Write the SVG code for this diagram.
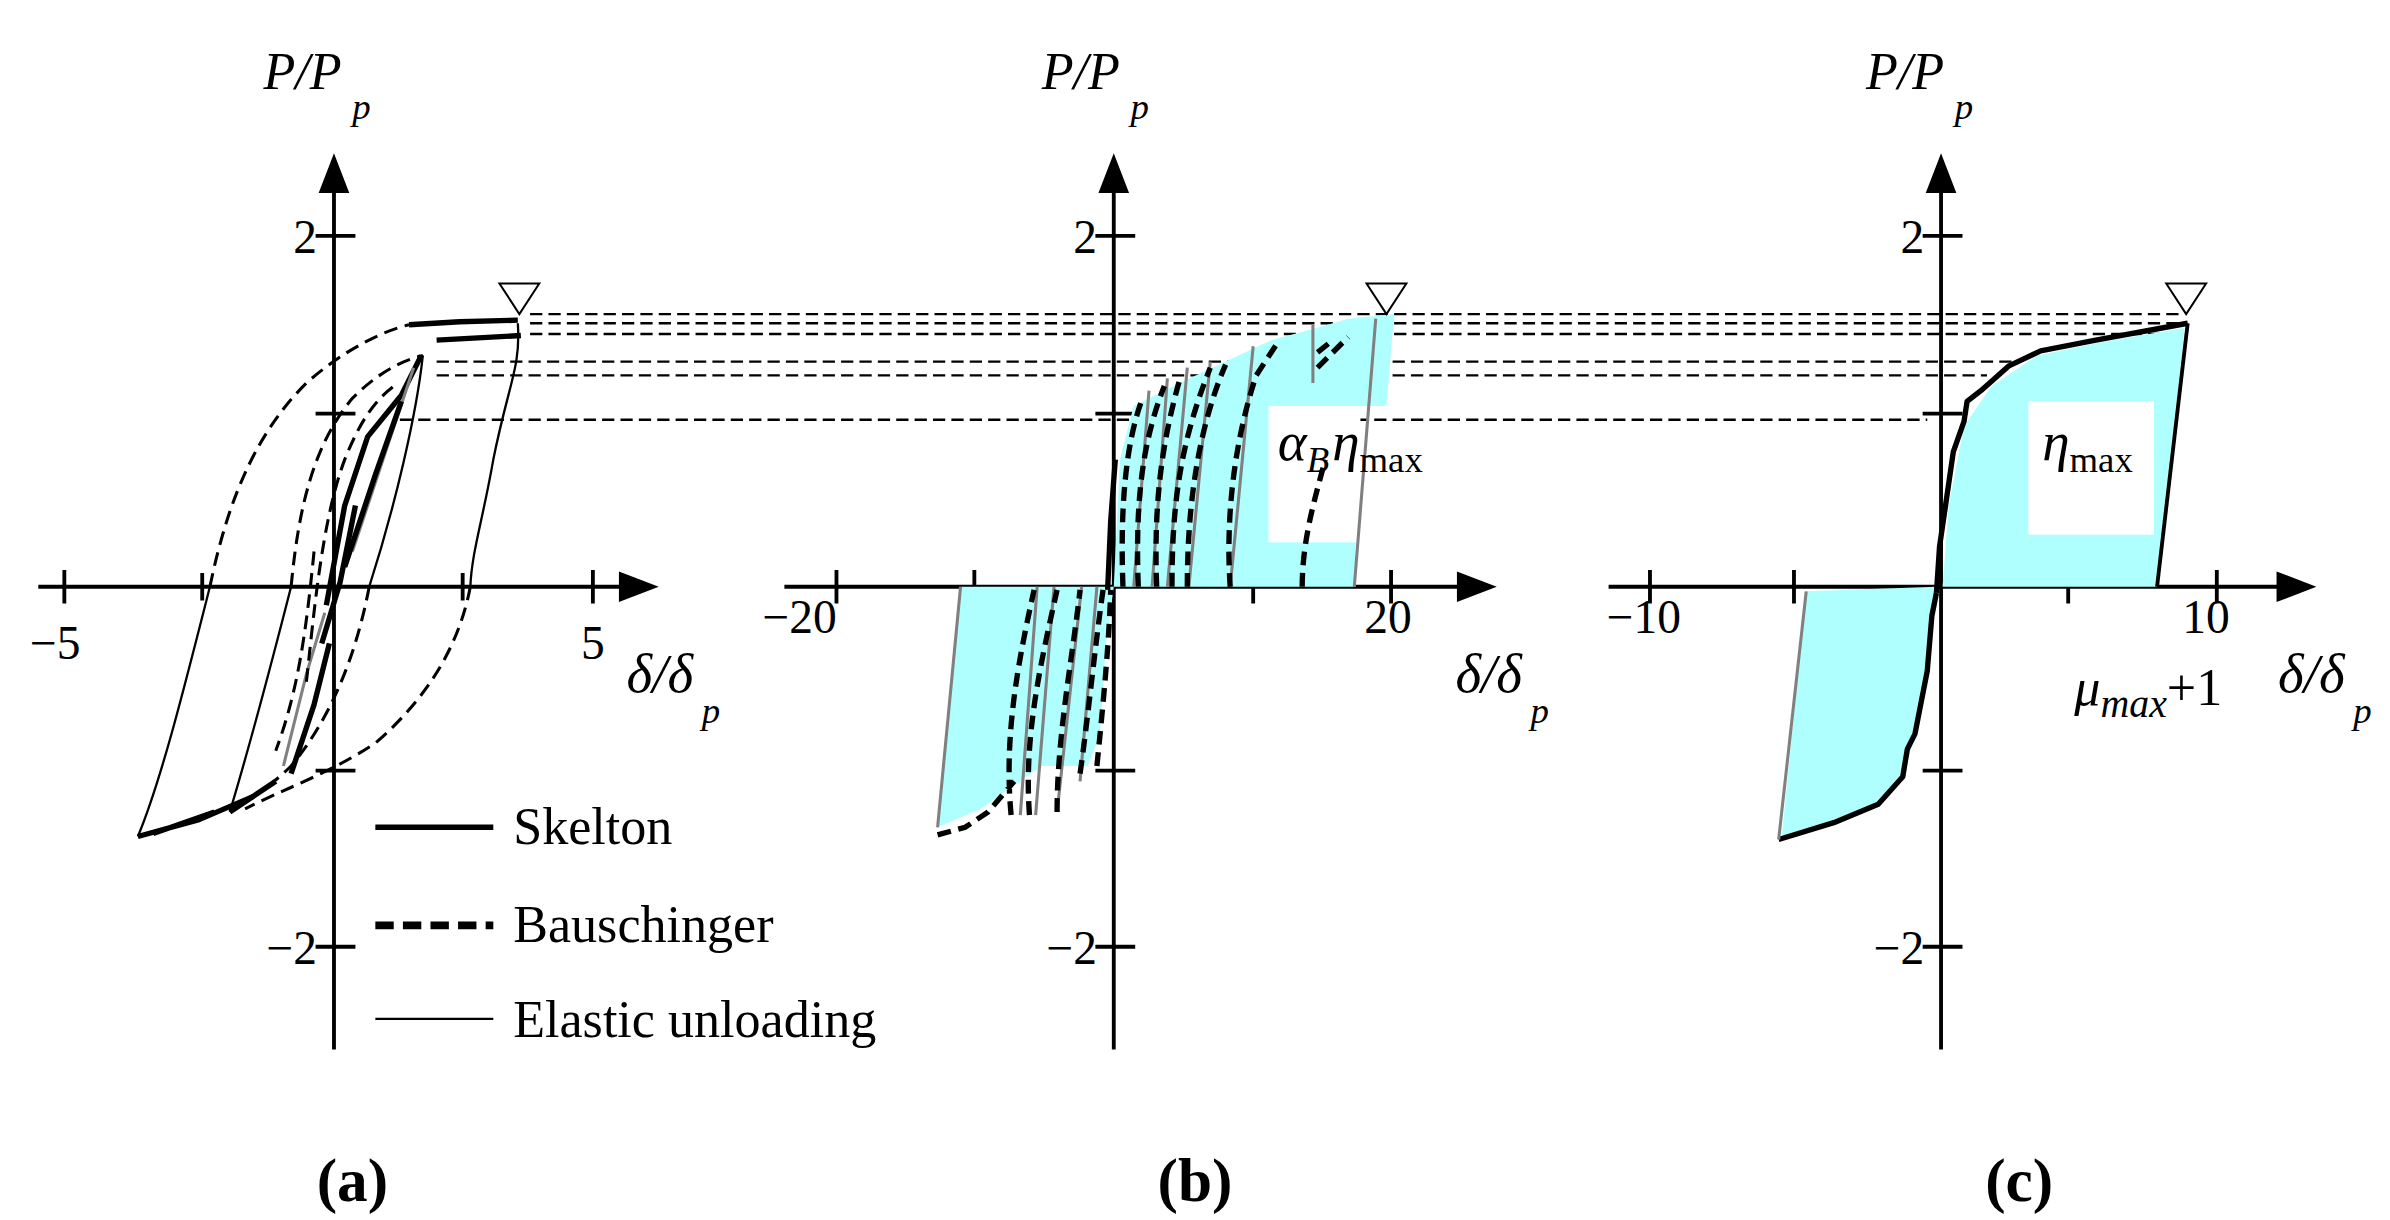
<svg xmlns="http://www.w3.org/2000/svg" width="2390" height="1220" viewBox="0 0 2390 1220">
<style>
.ax{stroke:#000;stroke-width:2.5;fill:none}
.sk{stroke:#000;stroke-width:3.5;fill:none;stroke-linejoin:round}
.bs{stroke:#000;stroke-width:3.5;fill:none;stroke-dasharray:9 5}
.el{stroke:#000;stroke-width:1.5;fill:none}
.gr{stroke:#808080;stroke-width:2;fill:none}
.hd{stroke:#000;stroke-width:1.5;fill:none;stroke-dasharray:8 4}
.cy{fill:#b0ffff;stroke:none}
.tri{fill:#fff;stroke:#000;stroke-width:1.3}
text{font-family:"Liberation Serif","Times New Roman",serif;fill:#000}
.t{font-size:31px}
.i{font-style:italic}
.lab{font-size:40px;font-weight:bold}
</style>
<rect width="2390" height="1220" fill="#fff"/>
<g transform="scale(1.532)" font-family="Liberation Serif, serif">
<g id="connectors">
 <g id="dashes">
  <path class="hd" d="M346,205H1425M346,211H1425M346,218H1420M285,236H1314M285,245H1297M261,274H1258"/>
 </g>
 <path class="ax" d="M218,685V120M25,383H410"/>
 <path d="M218,100L208,126H228z M430,383L404,373V393z" fill="#000"/>
 <path class="ax" d="M206,154H232M206,270H232M206,503H232M206,618H232M42,372V394M387,372V394M132,374V392M302,374V392"/>
 <path class="ax" d="M727,685V120M512,383H955"/>
 <path d="M727,100L717,126H737z M977,383L951,373V393z" fill="#000"/>
 <path class="ax" d="M715,154H741M715,270H741M715,503H741M715,618H741M546,372V394M636,372V394M818,372V394M908,372V394"/>
 <path class="ax" d="M1267,685V120M1050,383H1490"/>
 <path d="M1267,100L1257,126H1277z M1512,383L1486,373V393z" fill="#000"/>
 <path class="ax" d="M1255,154H1281M1255,270H1281M1255,503H1281M1255,618H1281M1077,372V394M1171,372V394M1350,372V394M1447,372V394"/>
</g>
<g id="panel-a">
 <path class="sk" d="M267,212L300,210L338,209M285,222L340,219"/>
 <path class="el" d="M338,211C340,240 332,250 322,300C315,340 308,360 307,383"/>
 <path class="bs" style="stroke-width:2" d="M307,383C300,420 280,455 245,485C215,505 185,515 160,528"/>
 <path class="sk" d="M165,520L130,535L90,546M140,530L100,544"/>
 <path class="el" d="M90,546C105,510 120,450 137,383"/>
 <path class="bs" style="stroke-width:2" d="M137,383C150,320 170,280 200,250C225,228 250,216 267,212"/>
 <path class="el" d="M276,232C272,270 258,330 241,383"/>
 <path class="bs" style="stroke-width:2" d="M241,383C232,430 215,470 190,500C175,515 160,523 150,530"/>
 <path class="sk" d="M150,530L180,510"/>
 <path class="el" d="M150,530C165,480 178,430 190,383"/>
 <path class="bs" style="stroke-width:2" d="M190,383C195,330 205,290 230,260C245,245 260,236 276,232"/>
 <path class="sk" d="M213,395L225,330L240,285L262,258L275,232M210,420L222,380L232,330"/>
 <path class="gr" d="M185,500L200,440L212,400M230,360L250,300L270,240"/>
 <path class="sk" d="M190,505L205,460L215,420M225,370L245,310L262,262"/>
 <path class="bs" style="stroke-width:2" d="M200,445C205,400 210,340 225,300C235,275 245,260 260,250"/>
 <path class="bs" style="stroke-width:2" d="M205,360C200,410 195,450 180,490"/>
 <path class="tri" d="M326,185H352L339,205z"/>
</g>
<g id="panel-b">
 <path class="cy" d="M727,383L731,300L740,265L770,250L800,236L830,222L860,214L880,208L910,205L905,265L888,265L884,383z"/>
 <rect x="828" y="265" width="60" height="89" fill="#fff"/>
 <path class="cy" d="M627,383L612,540L640,528L680,500L710,500L718,480L722,420L727,383z"/>
 <path class="gr" d="M740,383L750,255M752,383L762,247M762,383L775,240M776,383L790,236M803,383L818,226M884,383L898,208M857,250V212"/>
 <path class="bs" d="M733,383C731,330 735,290 745,262M743,383C741,330 745,290 760,252M755,383C753,330 758,290 770,248M765,383C765,330 770,290 790,240M775,383C775,330 782,280 800,238M803,383C800,340 805,290 820,245L835,222M850,383C850,350 860,320 865,300M860,230L870,222M860,240L880,220"/>
 <path class="gr" d="M627,383L612,540M677,383L666,532M688,383L676,532M706,383L690,530M716,383L705,510"/>
 <path class="bs" d="M612,545L630,540L645,530L662,510M660,532C655,480 665,430 675,385M672,532C668,480 680,430 690,385M690,530C690,480 700,430 705,385M705,505C710,470 715,420 720,385M716,500C720,460 724,420 725,385"/>
 <path class="sk" d="M723,385L725,340L728,300"/>
 <path class="tri" d="M892,185H918L905,205z"/>
</g>
<g id="panel-c">
 <path class="cy" d="M1268,383L1272,330L1282,278L1300,252L1330,232L1368,224L1426,214L1408,383z"/>
 <rect x="1324" y="262" width="82" height="87" fill="#fff"/>
 <path class="cy" d="M1264,383L1258,438L1250,480L1242,507L1226,525L1197,537L1163,546L1179,386z"/>
 <path class="sk" d="M1264,387L1266,357L1275,295L1282,275L1284,262L1293,255L1311,239L1332,229L1368,222L1428,211"/>
 <path class="sk" style="stroke-width:2.5" d="M1428,211L1408,383"/>
 <path class="sk" d="M1264,387L1261,402L1258,438L1250,479L1245,489L1242,507L1226,525L1197,537L1161,548"/>
 <path class="gr" d="M1161,548L1179,386"/>
 <path class="tri" d="M1414,185H1440L1427,205z"/>
</g>
<g id="labels">
 <text class="t i" x="172" y="58" style="font-size:34px">P/P</text><text class="t i" x="230" y="78" style="font-size:24px">p</text>
 <text class="t i" x="680" y="58" style="font-size:34px">P/P</text><text class="t i" x="738" y="78" style="font-size:24px">p</text>
 <text class="t i" x="1218" y="58" style="font-size:34px">P/P</text><text class="t i" x="1276" y="78" style="font-size:24px">p</text>
 <text class="t" x="207" y="165" text-anchor="end">2</text>
 <text class="t" x="207" y="629" text-anchor="end">−2</text>
 <text class="t" x="716" y="165" text-anchor="end">2</text>
 <text class="t" x="716" y="629" text-anchor="end">−2</text>
 <text class="t" x="1256" y="165" text-anchor="end">2</text>
 <text class="t" x="1256" y="629" text-anchor="end">−2</text>
 <text class="t" x="36" y="430" text-anchor="middle">−5</text>
 <text class="t" x="387" y="430" text-anchor="middle">5</text>
 <text class="t" x="522" y="413" text-anchor="middle">−20</text>
 <text class="t" x="906" y="413" text-anchor="middle">20</text>
 <text class="t" x="1073" y="413" text-anchor="middle">−10</text>
 <text class="t" x="1440" y="413" text-anchor="middle">10</text>
 <text class="t i" x="409" y="452" style="font-size:36px">δ/δ</text><text class="t i" x="458" y="472" style="font-size:24px">p</text>
 <text class="t i" x="950" y="452" style="font-size:36px">δ/δ</text><text class="t i" x="999" y="472" style="font-size:24px">p</text>
 <text class="t i" x="1487" y="452" style="font-size:36px">δ/δ</text><text class="t i" x="1536" y="472" style="font-size:24px">p</text>
 <text class="t" x="1354" y="460" style="font-size:34px"><tspan class="i">μ</tspan><tspan class="i" dy="8" style="font-size:26px">max</tspan><tspan dy="-8">+1</tspan></text>
 <text class="t" x="834" y="300" style="font-size:36px"><tspan class="i">α</tspan><tspan class="i" dy="8" style="font-size:24px">B</tspan><tspan class="i" dy="-8" dx="2">η</tspan><tspan dy="8" style="font-size:24px">max</tspan></text>
 <text class="t" x="1333" y="300" style="font-size:36px"><tspan class="i">η</tspan><tspan dy="8" style="font-size:24px">max</tspan></text>
 <text class="lab" x="230" y="784" text-anchor="middle">(a)</text>
 <text class="lab" x="780" y="784" text-anchor="middle">(b)</text>
 <text class="lab" x="1318" y="784" text-anchor="middle">(c)</text>
</g>
<g id="legend">
 <path class="sk" d="M245,540H322"/>
 <path class="bs" style="stroke-width:5;stroke-dasharray:12 6" d="M245,604H322"/>
 <path class="el" d="M245,665H322"/>
 <text class="t" x="335" y="551" style="font-size:34px">Skelton</text>
 <text class="t" x="335" y="615" style="font-size:34px">Bauschinger</text>
 <text class="t" x="335" y="677" style="font-size:34px">Elastic unloading</text>
</g>
</g>
</svg>
